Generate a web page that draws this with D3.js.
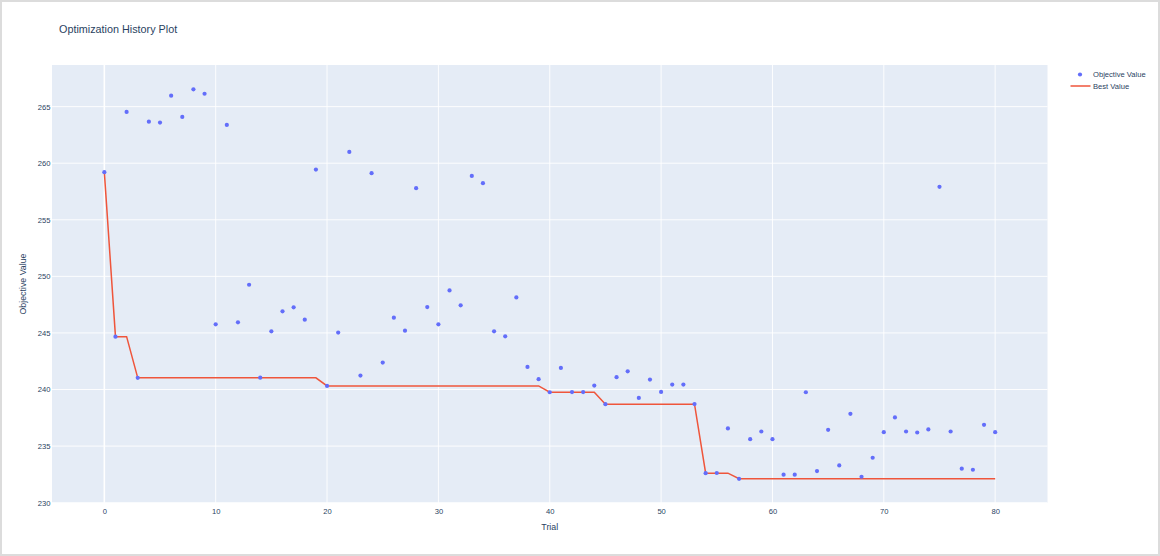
<!DOCTYPE html>
<html>
<head>
<meta charset="utf-8">
<script src="https://cdn.jsdelivr.net/npm/d3@7"></script>
<style>
  html, body { margin: 0; padding: 0; background: #fff; }
  #frame { position: absolute; left: 0; top: 0; width: 1156px; height: 552px; border: 2px solid #dcdcdc; }
  svg { position: absolute; left: 0; top: 0; }
  text { font-family: "Liberation Sans", Arial, sans-serif; fill: #2a3f5f; }
</style>
</head>
<body>
<div id="frame"></div>
<svg id="chart" width="1160" height="556"></svg>
<script>
const trials = d3.range(0, 81);
const objectiveValues = [
  259.21, 244.67, 264.53, 241.03, 263.67, 263.59, 265.97, 264.09, 266.53, 266.14,
  245.76, 263.38, 245.94, 249.26, 241.05, 245.14, 246.91, 247.26, 246.17, 259.44,
  240.32, 245.03, 261.00, 241.23, 259.12, 242.38, 246.35, 245.20, 257.79, 247.29,
  245.76, 248.76, 247.44, 258.88, 258.24, 245.14, 244.70, 248.14, 242.00, 240.91,
  239.76, 241.91, 239.77, 239.77, 240.35, 238.70, 241.09, 241.61, 239.26, 240.88,
  239.79, 240.44, 240.44, 238.71, 232.61, 232.62, 236.56, 232.11, 235.61, 236.29,
  235.61, 232.47, 232.47, 239.76, 232.79, 236.44, 233.29, 237.85, 232.29, 233.97,
  236.23, 237.53, 236.29, 236.20, 236.47, 257.91, 236.29, 233.00, 232.91, 236.88,
  236.23
];
const bestValues = [
  259.21, 244.67, 244.67, 241.03, 241.03, 241.03, 241.03, 241.03, 241.03, 241.03,
  241.03, 241.03, 241.03, 241.03, 241.03, 241.03, 241.03, 241.03, 241.03, 241.03,
  240.32, 240.32, 240.32, 240.32, 240.32, 240.32, 240.32, 240.32, 240.32, 240.32,
  240.32, 240.32, 240.32, 240.32, 240.32, 240.32, 240.32, 240.32, 240.32, 240.32,
  239.76, 239.76, 239.76, 239.76, 239.76, 238.70, 238.70, 238.70, 238.70, 238.70,
  238.70, 238.70, 238.70, 238.70, 232.61, 232.61, 232.61, 232.11, 232.11, 232.11,
  232.11, 232.11, 232.11, 232.11, 232.11, 232.11, 232.11, 232.11, 232.11, 232.11,
  232.11, 232.11, 232.11, 232.11, 232.11, 232.11, 232.11, 232.11, 232.11, 232.11,
  232.11
];
const xTicks = [0, 10, 20, 30, 40, 50, 60, 70, 80];
const yTicks = [230, 235, 240, 245, 250, 255, 260, 265];
const titleText = "Optimization History Plot";
const xTitle = "Trial";
const yTitle = "Objective Value";
const legendLabels = ["Objective Value", "Best Value"];

const plot = { left: 52, right: 1047.5, top: 65, bottom: 503 };
const svg = d3.select("#chart");
const FONT = '"Liberation Sans", Arial, sans-serif';

const x = d3.scaleLinear().domain([-4.7, 84.7]).range([plot.left, plot.right]);
const y = d3.scaleLinear().domain([229.97, 268.68]).range([plot.bottom, plot.top]);

// background
svg.append("rect").attr("x", plot.left).attr("y", plot.top)
  .attr("width", plot.right - plot.left).attr("height", plot.bottom - plot.top)
  .attr("fill", "#e5ecf6");

// grid
const grid = svg.append("g");
grid.selectAll("line.gx").data(xTicks).join("line")
  .attr("x1", d => x(d)).attr("x2", d => x(d))
  .attr("y1", plot.top).attr("y2", plot.bottom)
  .attr("stroke", "#fff").attr("stroke-width", d => d === 0 ? 1.6 : 0.9);
grid.selectAll("line.gy").data(yTicks).join("line")
  .attr("x1", plot.left).attr("x2", plot.right)
  .attr("y1", d => y(d)).attr("y2", d => y(d))
  .attr("stroke", "#fff").attr("stroke-width", 0.9);

// axes (labels only)
const xAxis = d3.axisBottom(x).tickValues(xTicks).tickSize(0).tickPadding(6);
const gx = svg.append("g").attr("transform", `translate(0,${plot.bottom})`).call(xAxis);
gx.select(".domain").remove();
gx.selectAll("text").style("font-size", "7.6px").attr("fill", "#2a3f5f")
  .style("font-family", FONT);

const yAxis = d3.axisLeft(y).tickValues(yTicks).tickSize(0).tickPadding(1.5);
const gy = svg.append("g").attr("transform", `translate(${plot.left},0)`).call(yAxis);
gy.select(".domain").remove();
gy.selectAll("text").style("font-size", "7.6px").attr("fill", "#2a3f5f")
  .style("font-family", FONT);

// best value line
const line = d3.line().x((d, i) => x(trials[i])).y(d => y(d));
svg.append("path").datum(bestValues).attr("d", line)
  .attr("fill", "none").attr("stroke", "#ef553b").attr("stroke-width", 1.5);

// objective points
svg.append("g").selectAll("circle").data(objectiveValues).join("circle")
  .attr("cx", (d, i) => x(trials[i])).attr("cy", d => y(d))
  .attr("r", 2.1).attr("fill", "#636efa");

// titles
svg.append("text").attr("x", 59).attr("y", 33).text(titleText)
  .style("font-size", "10.8px");
svg.append("text").attr("x", (plot.left + plot.right) / 2).attr("y", 530)
  .attr("text-anchor", "middle").text(xTitle).style("font-size", "8.8px");
svg.append("text").attr("transform", `translate(26,${(plot.top + plot.bottom) / 2}) rotate(-90)`)
  .attr("text-anchor", "middle").text(yTitle).style("font-size", "8.8px");

// legend
const lg = svg.append("g");
lg.append("circle").attr("cx", 1080).attr("cy", 74.5).attr("r", 2.1).attr("fill", "#636efa");
lg.append("line").attr("x1", 1070.5).attr("x2", 1090.5).attr("y1", 86).attr("y2", 86)
  .attr("stroke", "#ef553b").attr("stroke-width", 1.5);
lg.append("text").attr("x", 1093).attr("y", 77.3).text(legendLabels[0]).style("font-size", "7.6px");
lg.append("text").attr("x", 1093).attr("y", 88.8).text(legendLabels[1]).style("font-size", "7.6px");
</script>
</body>
</html>
